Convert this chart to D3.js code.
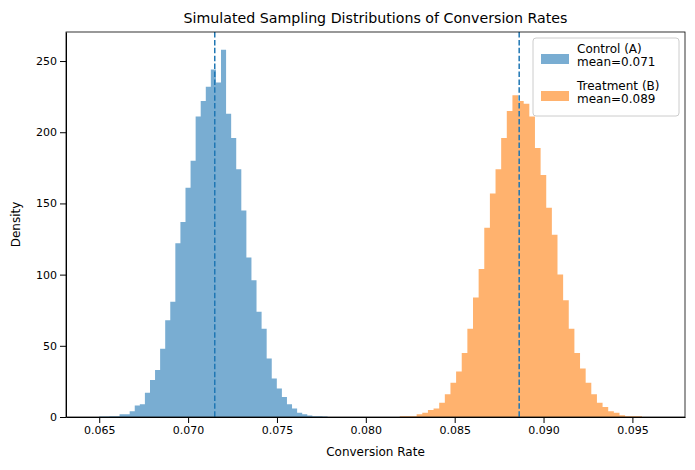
<!DOCTYPE html>
<html>
<head>
<meta charset="utf-8" />
<script src="https://d3js.org/d3.v7.min.js"></script>
<style>
  body { margin: 0; background: #fff; }
  text { font-family: "DejaVu Sans", sans-serif; }
</style>
</head>
<body>
<svg id="chart" width="695" height="470"></svg>
<script>
// control histogram
const controlStart = 0.0650, controlBin = 0.0002855;
const controlDensity = [0.3,0.3,0.5,0.5,2,2,4,8,9,17,26,33,48,68,81,122,137,161,180,211,222,232,244,235,258,213,196,174,145,112,96,74,62,41,27,20,14,9,6,3,2,1,0.5,0.5,0.3];
// treatment histogram
const treatStart = 0.08191, treatBin = 0.000317;
const treatDensity = [0.5,0.5,0.5,2,3,5,6,10,16,24,32,45,62,84,104,133,157,174,196,215,226,222,220,211,189,170,147,128,100,82,62,45,34,24,16,10,7,4,3,1.2,0.5,0.5,0.5];
const means = [0.0715, 0.08863];
const xTicks = [0.065, 0.070, 0.075, 0.080, 0.085, 0.090, 0.095];
const yTicks = [0, 50, 100, 150, 200, 250];
const labels = ["Control (A)\nmean=0.071", "Treatment (B)\nmean=0.089"];

var margin = { top: 32, right: 10, bottom: 53, left: 66 },
  width = 695 - margin.left - margin.right,
  height = 470 - margin.top - margin.bottom;

var svg = d3.select("#chart");
var chart = svg.append("g").attr("transform", "translate(" + margin.left + "," + margin.top + ")");

var x = d3.scaleLinear().domain([0.06313, 0.09796]).range([0, width]);
var y = d3.scaleLinear().domain([0, 270.4]).range([height, 0]);

function drawHist(vals, start, bin, color) {
  var path = d3.path();
  vals.forEach(function (d, i) {
    path.rect(x(start + i * bin), y(d), x(start + (i + 1) * bin) - x(start + i * bin), height - y(d));
  });
  chart.append("path").attr("d", path.toString())
    .attr("fill", color).attr("fill-opacity", 0.6);
}
drawHist(controlDensity, controlStart, controlBin, "#1f77b4");
drawHist(treatDensity, treatStart, treatBin, "#ff7f0e");

chart.selectAll(".mean").data(means).join("line")
  .attr("x1", d => x(d)).attr("x2", d => x(d))
  .attr("y1", 0).attr("y2", height)
  .attr("stroke", "#1f77b4").attr("stroke-width", 1.5)
  .attr("stroke-dasharray", "5.5,2.4");

chart.append("g").attr("transform", "translate(0," + height + ")")
  .call(d3.axisBottom(x).tickValues(xTicks).tickFormat(d3.format(".3f")).tickSizeOuter(0))
  .call(g => g.selectAll("text").style("font-size", "11px").attr("fill", "#000"));
chart.append("g")
  .call(d3.axisLeft(y).tickValues(yTicks).tickSizeOuter(0))
  .call(g => g.selectAll("text").style("font-size", "11px").attr("fill", "#000"));
chart.append("rect").attr("width", width).attr("height", height)
  .attr("fill", "none").attr("stroke", "#000").attr("stroke-width", 0.8);

svg.append("text").attr("x", margin.left + width / 2).attr("y", 23)
  .attr("text-anchor", "middle").style("font-size", "14.2px").text("Simulated Sampling Distributions of Conversion Rates");
svg.append("text").attr("x", margin.left + width / 2).attr("y", 456)
  .attr("text-anchor", "middle").style("font-size", "12px").text("Conversion Rate");
svg.append("text").attr("transform", "translate(20," + (margin.top + height / 2) + ") rotate(-90)")
  .attr("text-anchor", "middle").style("font-size", "12px").text("Density");

// legend
var lg = svg.append("g").attr("transform", "translate(533,38)");
lg.append("rect").attr("width", 146).attr("height", 78).attr("rx", 3)
  .attr("fill", "#fff").attr("fill-opacity", 0.8).attr("stroke", "#ccc");
var colors = ["#1f77b4", "#ff7f0e"];
labels.forEach(function (t, i) {
  var g = lg.append("g").attr("transform", "translate(0," + (i * 37) + ")");
  g.append("rect").attr("x", 8).attr("y", 16).attr("width", 28).attr("height", 10)
    .attr("fill", colors[i]).attr("fill-opacity", 0.6);
  t.split("\n").forEach(function (line, j) {
    g.append("text").attr("x", 44).attr("y", 15 + j * 13).style("font-size", "12px").text(line);
  });
});
</script>
</body>
</html>
